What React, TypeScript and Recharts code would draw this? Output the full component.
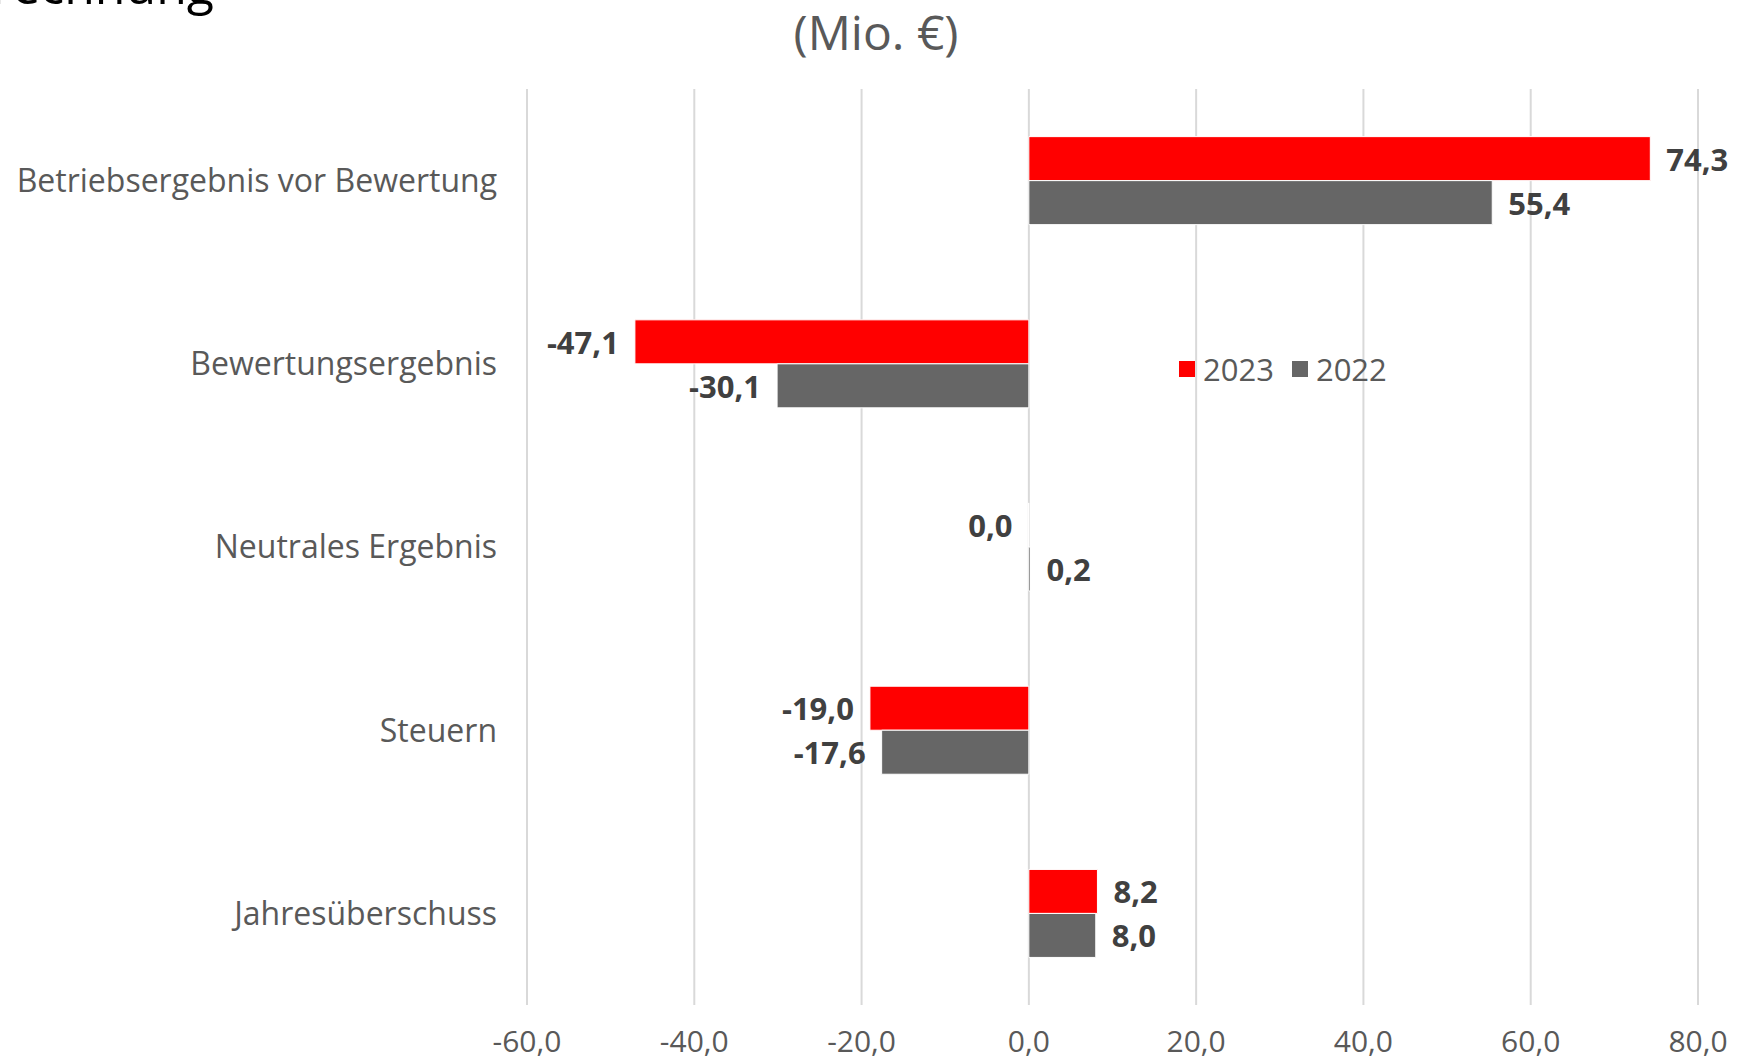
import { Bar, BarChart, CartesianGrid, LabelList, XAxis, YAxis } from "recharts";

const CATEGORIES = [
  "Betriebsergebnis vor Bewertung",
  "Bewertungsergebnis",
  "Neutrales Ergebnis",
  "Steuern",
  "Jahresüberschuss",
];
const VALUES_2023 = [74.3, -47.1, -0.04, -19.0, 8.2];
const VALUES_2022 = [55.4, -30.1, 0.2, -17.6, 8.0];
const X_TICKS = [-60, -40, -20, 0, 20, 40, 60, 80];
const SERIES = [
  { key: "y2023", name: "2023", color: "#FF0000" },
  { key: "y2022", name: "2022", color: "#666666" },
];

const FONT = "'Open Sans', 'DejaVu Sans', sans-serif";

const data = CATEGORIES.map((name, i) => ({
  name,
  y2023: VALUES_2023[i],
  y2022: VALUES_2022[i],
}));

// round first so tiny negatives print as 0,0 rather than -0,0
const fmt = (v: number) => (Math.round(v * 10) / 10 + 0).toFixed(1).replace(".", ",");

function ValueLabel(props: any) {
  const { x, y, width, height, value } = props;
  const left = Math.min(x, x + width);
  const right = Math.max(x, x + width);
  const pos = value > 0;
  return (
    <text
      x={pos ? right + 16 : left - 16}
      y={y + height / 2}
      textAnchor={pos ? "start" : "end"}
      dominantBaseline="central"
      fill="#404040"
      fontWeight={700}
      fontSize={31}
      fontFamily={FONT}
    >
      {fmt(Number(value))}
    </text>
  );
}

export default function App() {
  return (
    <div style={{ position: "absolute", left: 0, top: 0, width: 1739, height: 1063, background: "#fff", overflow: "hidden" }}>
      <svg width={1739} height={1063} style={{ position: "absolute", left: 0, top: 0 }}>
        <text x={214} y={4} textAnchor="end" fontSize={50} fontFamily={FONT} fill="#000">
          Gewinn- und Verlustrechnung
        </text>
        <text x={876} y={31} textAnchor="middle" dominantBaseline="central" fontSize={48} fontFamily={FONT} fill="#595959">
          (Mio. €)
        </text>
      </svg>
      <BarChart
        width={1739}
        height={1063}
        data={data}
        layout="vertical"
        margin={{ top: 89, right: 41, bottom: 0, left: 0 }}
        barCategoryGap="26%"
        barGap={0}
        style={{ position: "absolute", left: 0, top: 0 }}
      >
        <CartesianGrid horizontal={false} stroke="#D9D9D9" strokeWidth={2} />
        <XAxis
          type="number"
          domain={[-60, 80]}
          ticks={X_TICKS}
          tickFormatter={fmt}
          axisLine={false}
          tickLine={false}
          tickSize={0}
          tickMargin={26}
          height={58}
          tick={{ fill: "#595959", fontSize: 30, fontFamily: FONT }}
          interval={0}
        />
        <YAxis
          type="category"
          dataKey="name"
          width={527}
          axisLine={false}
          tickLine={false}
          tickSize={0}
          tickMargin={30}
          tick={{ fill: "#595959", fontSize: 32, fontFamily: FONT }}
          interval={0}
        />
        {SERIES.map((s) => (
          <Bar key={s.key} dataKey={s.key} name={s.name} fill={s.color} stroke="#fff" strokeWidth={1} isAnimationActive={false}>
            <LabelList dataKey={s.key} content={ValueLabel} />
          </Bar>
        ))}
      </BarChart>
      <div
        style={{
          position: "absolute",
          left: 1179,
          top: 348,
          display: "flex",
          alignItems: "center",
          gap: 18,
          fontFamily: FONT,
          fontSize: 31,
          color: "#595959",
          lineHeight: "42px",
          whiteSpace: "nowrap",
        }}
      >
        {SERIES.map((s) => (
          <span key={s.key} style={{ display: "flex", alignItems: "center", gap: 8 }}>
            <span style={{ width: 16, height: 16, background: s.color, display: "inline-block" }} />
            {s.name}
          </span>
        ))}
      </div>
    </div>
  );
}
